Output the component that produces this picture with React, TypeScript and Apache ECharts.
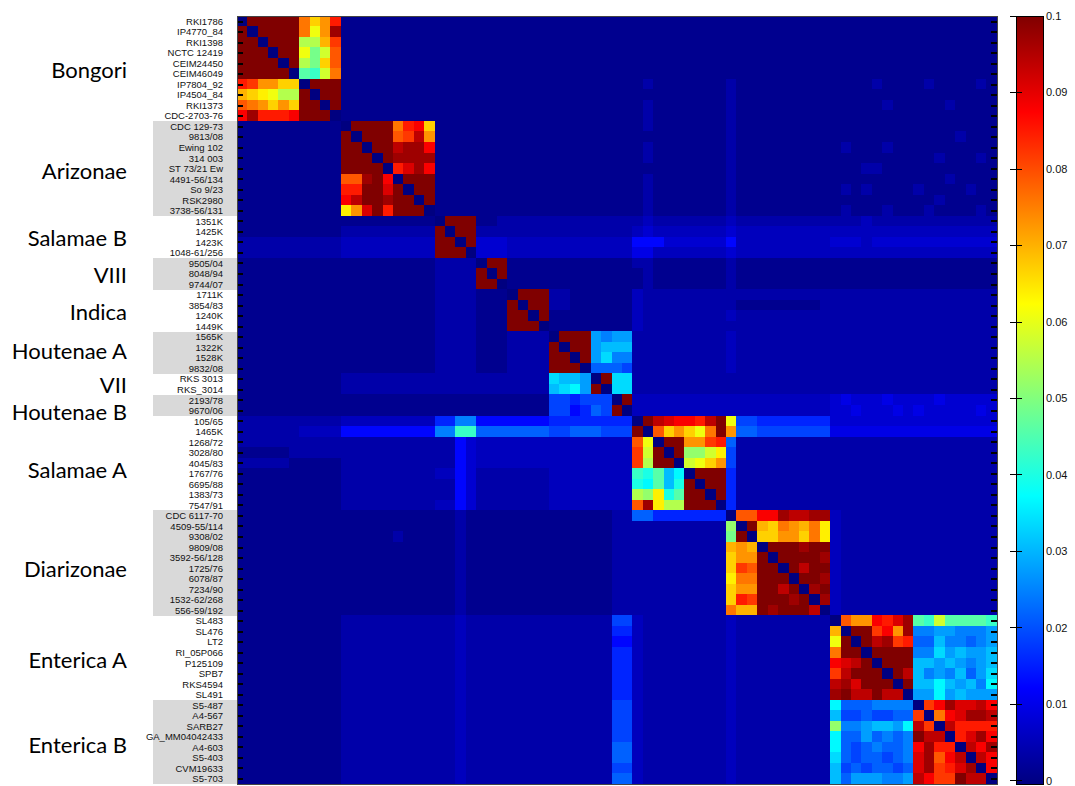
import React, { useEffect, useRef } from 'react';
import * as echarts from 'echarts';

const STRAINS = [
  'RKI1786', 'IP4770_84', 'RKI1398', 'NCTC 12419', 'CEIM24450', 'CEIM46049', 'IP7804_92', 'IP4504_84', 'RKI1373', 'CDC-2703-76',
  'CDC 129-73', '9813/08', 'Ewing 102', '314 003', 'ST 73/21 Ew', '4491-56/134', 'So 9/23', 'RSK2980', '3738-56/131',
  '1351K', '1425K', '1423K', '1048-61/256',
  '9505/04', '8048/94', '9744/07',
  '1711K', '3854/83', '1240K', '1449K',
  '1565K', '1322K', '1528K', '9832/08',
  'RKS 3013', 'RKS_3014',
  '2193/78', '9670/06',
  '105/65', '1465K', '1268/72', '3028/80', '4045/83', '1767/76', '6695/88', '1383/73', '7547/91',
  'CDC 6117-70', '4509-55/114', '9308/02', '9809/08', '3592-56/128', '1725/76', '6078/87', '7234/90', '1532-62/268', '556-59/192',
  'SL483', 'SL476', 'LT2', 'RI_05P066', 'P125109', 'SPB7', 'RKS4594', 'SL491',
  'S5-487', 'A4-567', 'SARB27', 'GA_MM04042433', 'A4-603', 'S5-403', 'CVM19633', 'S5-703',
];

const GROUP_NAMES = ['Bongori', 'Arizonae', 'Salamae B', 'VIII', 'Indica', 'Houtenae A', 'VII', 'Houtenae B', 'Salamae A', 'Diarizonae', 'Enterica A', 'Enterica B'];
const GROUP_SIZES = [10, 9, 4, 3, 4, 4, 2, 2, 9, 10, 8, 8];
const GROUP_SHADED = [false, true, false, true, false, true, false, true, false, true, false, true];

// one character per cell
const LEVEL_CODES = '0123456789abcdefghijklmnopqrstuvwxyz';
const LEVEL_VALUES = [
  0, 0.0015, 0.004, 0.006, 0.008, 0.010, 0.013, 0.016, 0.019, 0.022,
  0.025, 0.028, 0.031, 0.034, 0.037, 0.040, 0.043, 0.046, 0.049, 0.052,
  0.055, 0.058, 0.061, 0.064, 0.067, 0.070, 0.073, 0.076, 0.079, 0.082,
  0.085, 0.088, 0.091, 0.094, 0.097, 0.100,
];

// rows top to bottom; groups of columns separated by spaces
const MATRIX_ROWS = [
  '0zzzzzroqu 111111111 1111 111 1111 1111 11 11 111111111 1111111111 11111111 11111111',
  'z0zzzzrmqy 111111111 1111 111 1111 1111 11 11 111111111 1111111111 11111111 11111111',
  'zz0zzzkkpt 111111111 1111 111 1111 1111 11 11 111111111 1111111111 11111111 11111111',
  'zzz0zzmils 111111111 1111 111 1111 1111 11 11 111111111 1111111111 11111111 11111111',
  'zzzz0zkios 111111111 1111 111 1111 1111 11 11 111111111 1111111111 11111111 11111111',
  'zzzzz0hglr 111111111 1111 111 1111 1111 11 11 111111111 1111111111 11111111 11111111',
  'utqqoo0zzz 111111111 1111 111 1111 1111 11 11 121111111 2111111111 11112111 12111121',
  'ponmkkz0zz 111111111 1111 111 1111 1111 11 11 111111111 2111111111 11111111 11111111',
  'srqoqozz0z 111111111 1111 111 1111 1111 11 11 121111111 2111111111 11111211 11121111',
  'vyuuuvzzz0 111111111 1111 111 1111 1111 11 11 121111111 2111111111 11111111 11111111',
  '1111111111 0zzzzruvo 1111 111 1111 1111 11 11 121111111 2111111111 11111111 11111111',
  '1111111111 z0zzzstxq 1111 111 1111 1111 11 11 111111111 2111111111 11111111 11112111',
  '1111111111 zz0zzxyyv 1111 111 1111 1111 11 11 121111111 2111111111 12111211 11111111',
  '1111111111 zzz0zyyyy 1111 111 1111 1111 11 11 121111111 2111111111 11111111 11211121',
  '1111111111 zzzz0uwyv 1111 111 1111 1111 11 11 111111111 2111111111 11122111 11111111',
  '1111111111 ssyzv0zzz 1111 111 1111 1111 11 11 121111111 2111111111 11111111 11121111',
  '1111111111 uuzzwz0zz 1111 111 1111 1111 11 11 121111111 2111111111 12121111 21111211',
  '1111111111 vxzzyzz0z 1111 111 1111 1111 11 11 121111111 2111111111 11111111 11211111',
  '1111111111 nqwzuzzz0 1111 111 1111 1111 11 11 121111111 2111111111 12111211 12111121',
  '1111111111 111111111 0zzz 112 2222 2222 22 22 232222222 3222222222 22232222 22222222',
  '1111111111 222222222 z0zz 222 2222 2222 22 22 343333333 4333333333 33333333 33333333',
  '2222222222 333333333 zz0z 444 3333 3333 33 33 666444444 6333333333 44434444 44444444',
  '2222222222 333333333 zzz0 444 3333 3333 33 33 553333333 4333333333 33333333 33333333',
  '1111111111 111111111 2222 0zz 1111 1111 11 11 221111111 2111111111 11111111 11111111',
  '1111111111 111111111 2222 z0z 1111 1111 11 11 121111111 2111111111 11111111 11111111',
  '1111111111 111111111 2222 zz0 1111 1111 11 11 121111111 2111111111 11111111 11111111',
  '1111111111 111111111 2222 111 0zzz 2211 11 11 322222222 2222222222 22222222 22222222',
  '1111111111 111111111 2222 111 z0zz 2211 11 11 322222222 2111111112 22222222 22222222',
  '1111111111 111111111 2222 111 zz0z 1111 11 11 322222222 3222222222 22222222 22222222',
  '1111111111 111111111 2222 111 zzz0 1111 11 11 322222222 2222222222 22222222 22222222',
  '1111111111 111111111 2222 111 2222 0zzz ba bb 222222222 3222222222 22222222 22222222',
  '1111111111 111111111 2222 111 2222 z0zz bc cc 222222222 3222222222 22222222 22222222',
  '1111111111 111111111 2222 111 2222 zz0z bd aa 222222222 3222222222 22222222 22222222',
  '1111111111 111111111 2222 111 2222 zzz0 99 98 222222222 3222222222 22222222 22222222',
  '1111111111 222222222 2222 222 2222 dccb 0z dd 222222222 2222222222 22222222 22222222',
  '1111111111 222222222 2222 222 2222 cdeb z0 dd 222222222 2222222222 22222222 22222222',
  '1111111111 111111111 1111 111 1111 8878 88 0z 333333333 3333333333 45444544 44544444',
  '1111111111 111111111 1111 111 1111 8867 98 z0 333333333 3333333333 44544454 54444454',
  '2222222222 333333333 77aa 666 6666 7777 77 77 0zxwvvuxz m887777777 44444444 44444444',
  '2222223333 666666666 aagg 999 9999 8899 98 88 z0soqomrz q998888888 55555555 55555555',
  '2222222222 222222222 2264 333 3333 3333 33 33 sm0zzqqtu 9222222222 22222222 22222222',
  '1111122222 222222222 2264 333 3333 3333 33 33 tlz0zjjln 8222222222 22222222 22222222',
  '2222211111 222222222 2264 333 3333 3333 33 33 tkzz0lmoq 8222222222 22222222 22222222',
  '1111111111 222222222 3364 222 2222 3333 33 33 gfhce0zzz 7222222222 22222222 22222222',
  '1111111111 222222222 2264 222 2222 3333 33 33 fehcfz0zz 7222222222 22222222 22222222',
  '1111111111 222222222 2264 222 2222 3333 33 33 kjnfhzz0z 7222222222 22222222 22222222',
  '1111111111 222222222 3364 222 2222 3333 33 33 synkkzzz0 7222222222 22222222 22222222',
  '1111111111 111111111 1121 111 1111 1111 11 22 997777777 0ssvvyxxyy 32222222 22222222',
  '1111111111 111111111 1121 111 1111 1111 11 22 222222222 j0zporqprn 32222222 22222222',
  '1111111111 111112111 1121 111 1111 1111 11 22 222222222 iz0ooqqorn 32222222 22222222',
  '1111111111 111111111 1121 111 1111 1111 11 22 222222222 pqp0zzzyzz 32222222 22222222',
  '1111111111 111111111 1121 111 1111 1111 11 22 222222222 oqqz0zzzzy 32222222 22222222',
  '1111111111 111111111 1121 111 1111 1111 11 22 222222222 otszz0zxzz 32222222 22222222',
  '1111111111 111111111 1121 111 1111 1111 11 22 222222222 nrrzzz0zzy 32222222 22222222',
  '1111111111 111111111 1121 111 1111 1111 11 22 222222222 oqqzzxz0yz 32222222 22222222',
  '1111111111 111111111 1121 111 1111 1111 11 22 222222222 outzzzyz0y 32222222 22222222',
  '1111111111 111111111 1121 111 1111 1111 11 22 222222222 rppzyzzzx0 32222222 22222222',
  '1111111111 222222222 2232 222 2222 2222 22 88 322222222 3222222222 0sqqvuwy hglhhhhg',
  '1111111111 222222222 2232 222 2222 2222 22 77 322222222 3222222222 p0zztvqy aabbaaab',
  '1111111111 222222222 2232 222 2222 2222 22 66 322222222 3222222222 mz0zxytu 99caa9ab',
  '1111111111 222222222 2232 222 2222 2222 22 77 322222222 3222222222 rzz0zzzz aadbcbbc',
  '1111111111 222222222 2232 222 2222 2222 22 77 322222222 3222222222 vwxz0zzz ccbcbabc',
  '1111111111 222222222 2232 222 2222 2222 22 77 322222222 3222222222 txzzz0zx cabac9bd',
  '1111111111 222222222 2232 222 2222 2222 22 77 322222222 3222222222 xywzzz0z ccecbcae',
  '1111111111 222222222 2232 222 2222 2222 22 77 322222222 3222222222 yzxxzxx0 bbebcbbb',
  '1111111111 222222222 2232 222 2222 2222 22 88 322222222 3222222222 e999aaaa 0tvywwxv',
  '1111111111 222222222 2232 222 2222 2222 22 88 322222222 3222222222 c8898899 t0rvwyyx',
  '1111111111 222222222 2232 222 2222 2222 22 88 322222222 3222222222 jaabccbe xt0xuuuu',
  '1111111111 222222222 2232 222 2222 2222 22 88 322222222 3222222222 e99b9a9a zxx0uwyv',
  '1111111111 222222222 2232 222 2222 2222 22 99 322222222 3222222222 e989a99a vyuu0xvy',
  '1111111111 222222222 2232 222 2222 2222 22 99 322222222 3222222222 d989989a wysvx0xv',
  '1111111111 222222222 2232 222 2222 2222 22 88 322222222 3222222222 c8989989 wytuwy0v',
  '1111111111 222222222 2232 222 2222 2222 22 99 322222222 3222222222 c9bbbaab xvttzxx0',
];

const COLOR_MIN = 0;
const COLOR_MAX = 0.1;
const COLOR_STEP = 0.01;
const JET = ['#000080', '#0000ff', '#0080ff', '#00ffff', '#80ff80', '#ffff00', '#ff8000', '#ff0000', '#800000'];

// layout only: small vertical nudges (px) of the group titles
const TITLE_NUDGE = [1, 1.5, 1, 1, 1, -2.5, 0, 6, 6, 5, 2, 3];

export default function App() {
  const ref = useRef<HTMLDivElement>(null);
  useEffect(() => {
    if (!ref.current) return;
    const styleEl = document.createElement('style');
    styleEl.textContent = '#chart-root svg path, #chart-root svg rect { shape-rendering: crispEdges; }';
    document.head.appendChild(styleEl);

    const chart = echarts.init(ref.current, null, { renderer: 'svg' });
    const n = STRAINS.length;
    const data: number[][] = [];
    MATRIX_ROWS.forEach((row, r) => {
      const codes = row.replace(/ /g, '');
      for (let c = 0; c < codes.length; c++) {
        data.push([c, r, LEVEL_VALUES[LEVEL_CODES.indexOf(codes[c])]]);
      }
    });

    const plot = { left: 237, top: 16, width: 760, height: 768 };
    const cbar = { left: 1016, top: 16, width: 27, height: 768 };
    const rowH = plot.height / n;

    const graphics: any[] = [];
    let start = 0;
    GROUP_NAMES.forEach((name, g) => {
      const size = GROUP_SIZES[g];
      if (GROUP_SHADED[g]) {
        graphics.push({
          type: 'rect', z: 0, silent: true,
          shape: { x: 153, y: plot.top + start * rowH, width: 84, height: size * rowH },
          style: { fill: '#d9d9d9' },
        });
      }
      graphics.push({
        type: 'text', z: 5, x: 127, y: plot.top + (start + size / 2) * rowH + TITLE_NUDGE[g],
        style: {
          text: name, font: '22px Lato', fill: '#000',
          textAlign: 'right', textVerticalAlign: 'middle', align: 'right', verticalAlign: 'middle',
        },
      });
      start += size;
    });
    graphics.push({
      type: 'rect', z: 1, silent: true,
      shape: { x: cbar.left, y: cbar.top, width: cbar.width, height: cbar.height },
      style: {
        fill: new echarts.graphic.LinearGradient(0, 1, 0, 0, [
          { offset: 0, color: '#000080' },
          { offset: 0.125, color: '#0000ff' },
          { offset: 0.375, color: '#00ffff' },
          { offset: 0.625, color: '#ffff00' },
          { offset: 0.875, color: '#ff0000' },
          { offset: 1, color: '#800000' },
        ]),
        stroke: '#000', lineWidth: 1,
      },
    });
    graphics.push({
      type: 'rect', z: 100, silent: true,
      shape: { x: plot.left, y: plot.top, width: plot.width, height: plot.height },
      style: { fill: 'none', stroke: '#444', lineWidth: 1 },
    });

    const catTick = { show: true, inside: true, alignWithLabel: true, interval: 0, length: 6, lineStyle: { color: '#000', width: 1.5 } };
    const valTick = { show: true, inside: true, length: 6, lineStyle: { color: '#000', width: 1 } };

    chart.setOption({
      animation: false,
      backgroundColor: '#fff',
      grid: [
        { left: plot.left, top: plot.top, width: plot.width, height: plot.height, show: false },
        { left: cbar.left, top: cbar.top, width: cbar.width, height: cbar.height, show: false },
      ],
      xAxis: [
        { type: 'category', gridIndex: 0, data: STRAINS, show: false },
        { type: 'value', gridIndex: 1, show: false, min: 0, max: 1 },
      ],
      yAxis: [
        {
          type: 'category', gridIndex: 0, data: STRAINS, inverse: true, position: 'left', z: 10,
          axisLine: { show: false }, axisTick: catTick, splitLine: { show: false },
          axisLabel: { interval: 0, margin: 14, fontFamily: 'Liberation Sans, Arial, sans-serif', fontSize: 9.5, color: '#111' },
        },
        {
          type: 'category', gridIndex: 0, data: STRAINS, inverse: true, position: 'right', z: 10,
          axisLine: { show: false }, axisTick: catTick, axisLabel: { show: false }, splitLine: { show: false },
        },
        {
          type: 'value', gridIndex: 1, position: 'right', min: COLOR_MIN, max: COLOR_MAX, interval: COLOR_STEP, z: 10,
          axisLine: { show: false }, axisTick: valTick, splitLine: { show: false },
          axisLabel: {
            margin: 3, fontFamily: 'Liberation Sans, Arial, sans-serif', fontSize: 11, color: '#111',
            formatter: (v: number) => String(+v.toFixed(2)),
          },
        },
        {
          type: 'value', gridIndex: 1, position: 'left', min: COLOR_MIN, max: COLOR_MAX, interval: COLOR_STEP, z: 10,
          axisLine: { show: false }, axisTick: valTick, axisLabel: { show: false }, splitLine: { show: false },
        },
      ],
      visualMap: {
        type: 'continuous', show: false, min: COLOR_MIN, max: COLOR_MAX, seriesIndex: 0,
        inRange: { color: JET },
      },
      graphic: graphics,
      series: [
        {
          type: 'heatmap', xAxisIndex: 0, yAxisIndex: 0, data, progressive: 0,
          itemStyle: { borderWidth: 0 },
          emphasis: { disabled: true },
        },
      ],
    });
    return () => {
      chart.dispose();
      styleEl.remove();
    };
  }, []);
  return <div id="chart-root" ref={ref} style={{ position: 'fixed', left: 0, top: 0, width: 1075, height: 786, background: '#fff' }} />;
}
